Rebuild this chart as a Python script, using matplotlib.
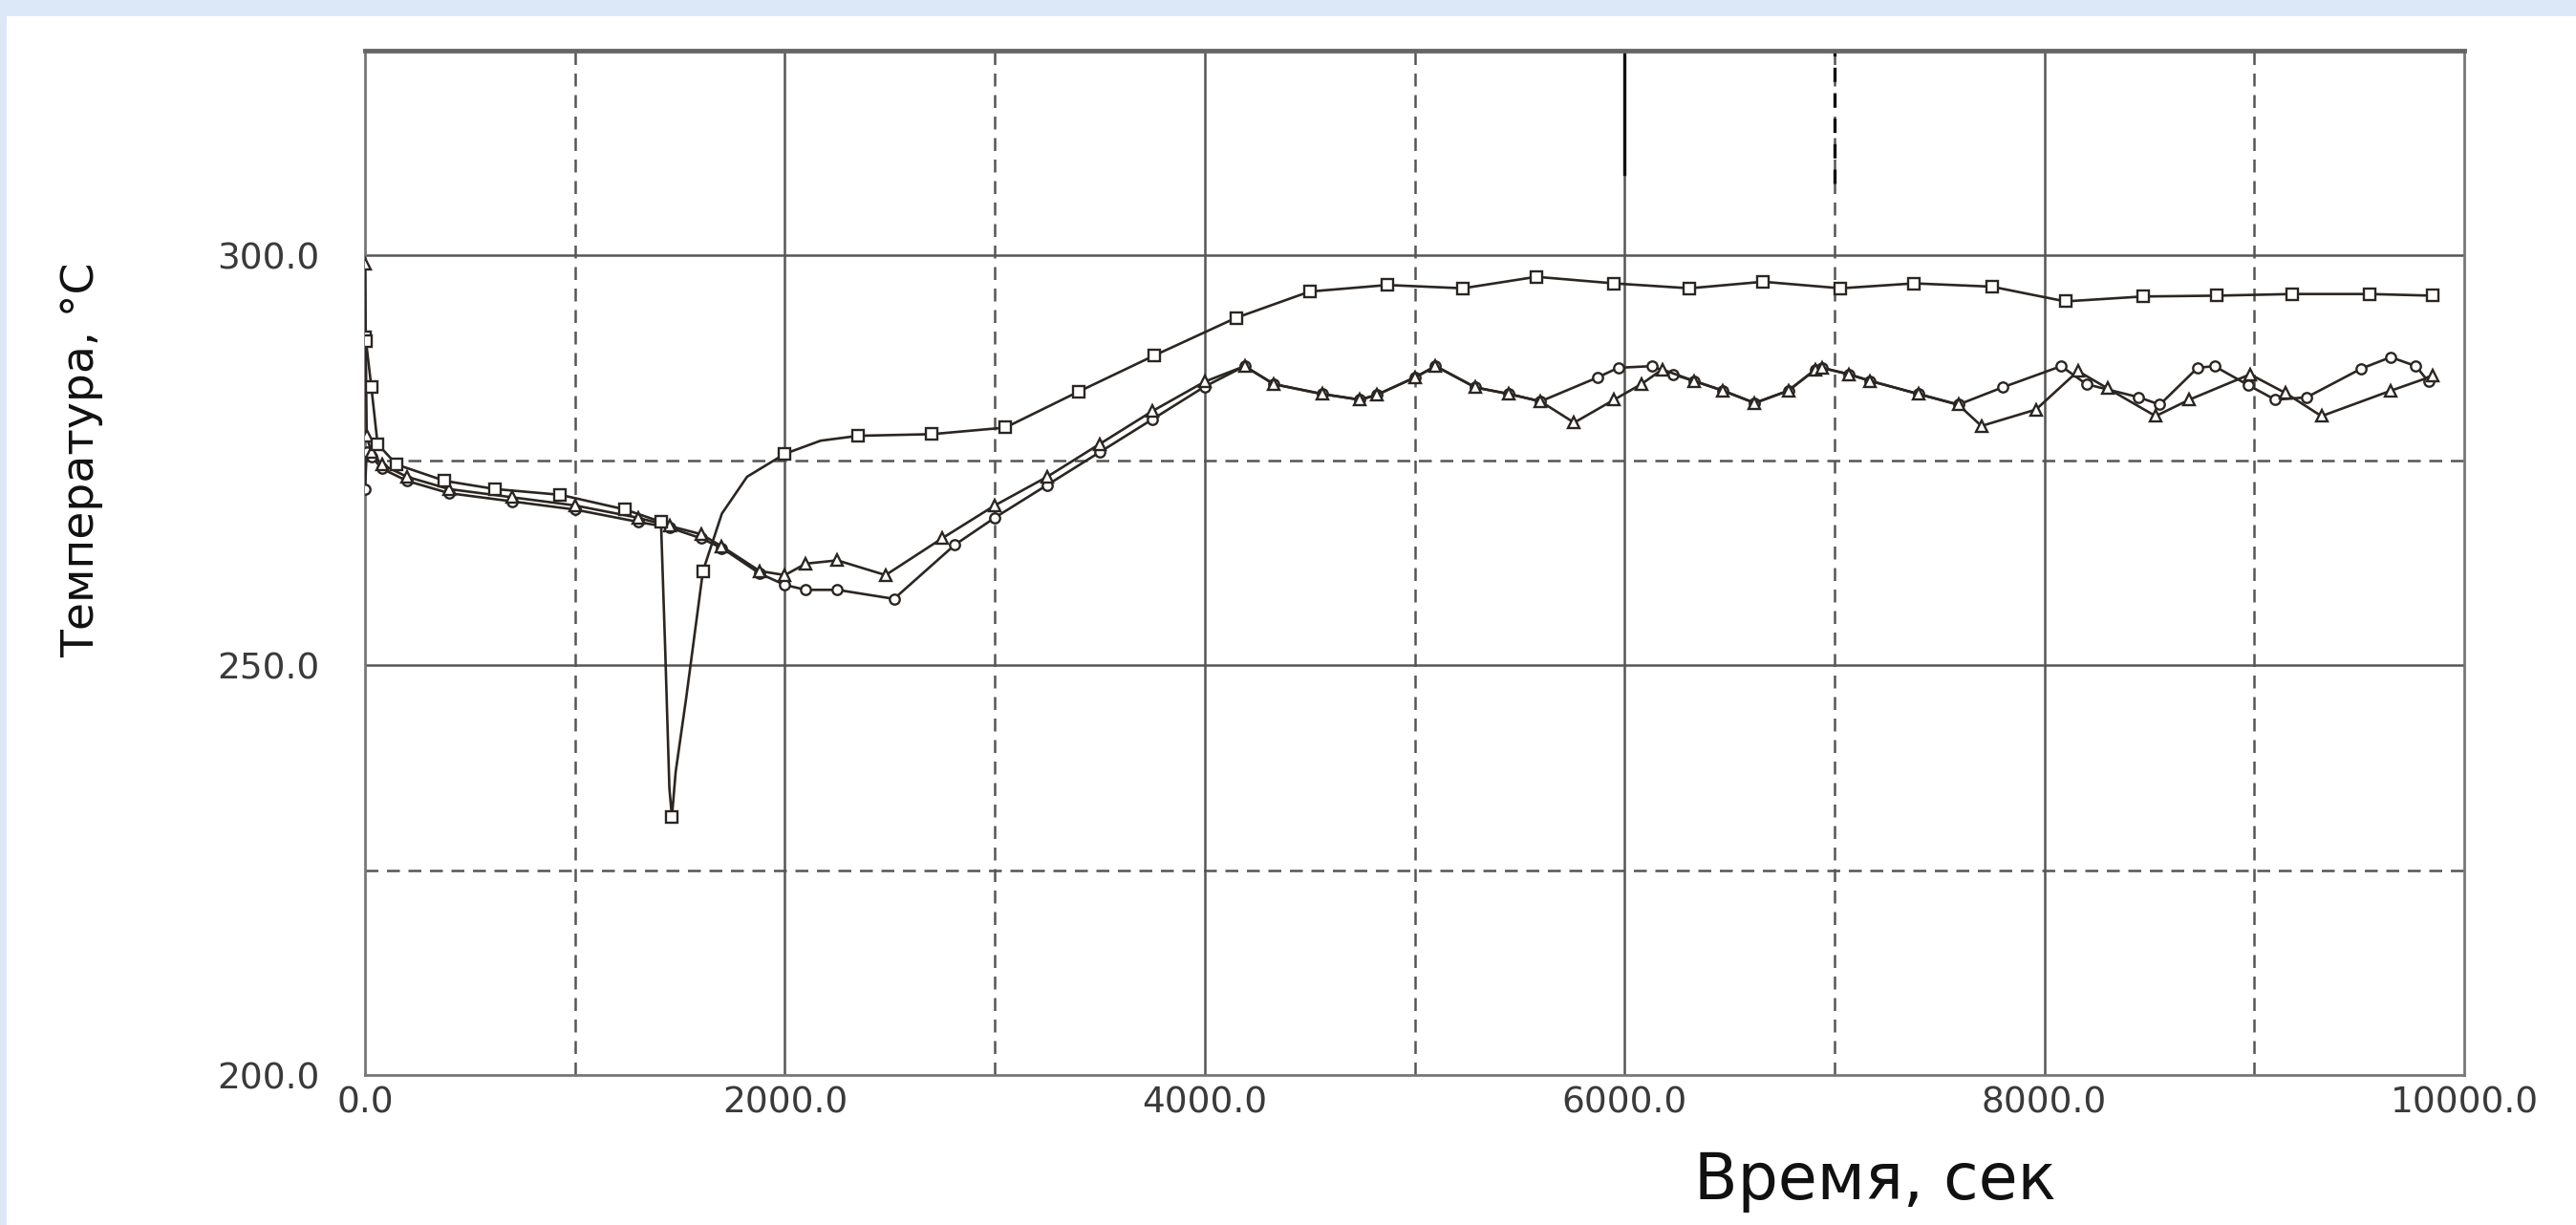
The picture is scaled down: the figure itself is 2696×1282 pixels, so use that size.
import matplotlib
matplotlib.use("Agg")
import matplotlib.pyplot as plt
from matplotlib.patches import Rectangle

# ---- data ----
t_sq = [0, 5, 30, 60, 150, 380, 620, 930, 1240, 1410, 1430, 1450, 1462, 1480, 1530, 1610,
        1700, 1820, 2000, 2170, 2350, 2700, 3050, 3400, 3760, 4150, 4500, 4870, 5230, 5580, 5950, 6310,
        6660, 7030, 7380, 7750, 8100, 8470, 8820, 9180, 9550, 9850]
T_sq = [290, 289.5, 284, 277, 274.5, 272.5, 271.5, 270.8, 269, 267.5, 252, 235, 231.5, 237, 246, 261.5,
        268.5, 273, 275.8, 277.4, 278, 278.2, 279, 283.4, 287.8, 292.4, 295.6, 296.4, 296, 297.4, 296.6, 296,
        296.8, 296, 296.6, 296.2, 294.4, 295, 295.1, 295.3, 295.3, 295.1]
# points of the square curve that carry no marker (shape-only points)
sq_unmarked = [1430, 1450, 1480, 1530, 1700, 1820, 2170]

t_tri = [0, 8, 30, 80, 200, 400, 700, 1000, 1300, 1450, 1600, 1700, 1880, 2000, 2100, 2250,
         2480, 2750, 3000, 3250, 3500, 3750, 4000, 4190, 4330, 4560, 4740, 4820, 5000, 5100,
         5290, 5450, 5600, 5760, 5950, 6080, 6180, 6330, 6470, 6620, 6780, 6910, 6940, 7070,
         7170, 7400, 7590, 7700, 7960, 8160, 8300, 8530, 8690, 8980, 9150, 9320, 9650, 9850]
T_tri = [299, 278, 276, 274.5, 273, 271.5, 270.5, 269.5, 268, 267, 266, 264.5, 261.5, 261, 262.4, 262.8,
         261, 265.5, 269.5, 273, 277, 281, 284.6, 286.5, 284.3, 283.1, 282.4, 283, 285.1, 286.5,
         283.9, 283.1, 282.2, 279.6, 282.4, 284.3, 286.1, 284.7, 283.5, 282, 283.5, 286.1, 286.3, 285.5,
         284.7, 283.1, 281.8, 279.2, 281.2, 285.9, 283.8, 280.4, 282.4, 285.5, 283.2, 280.4, 283.5, 285.3]

t_cir = [0, 8, 30, 80, 200, 400, 700, 1000, 1300, 1450, 1600, 1700, 1880, 2000, 2100, 2250,
         2520, 2810, 3000, 3250, 3500, 3750, 4000, 4190, 4330, 4560, 4740, 4820, 5000, 5100,
         5290, 5450, 5600, 5870, 5970, 6130, 6230, 6330, 6470, 6620, 6780, 6910, 6940, 7070,
         7170, 7400, 7590, 7800, 8080, 8200, 8450, 8550, 8730, 8810, 8970, 9100, 9250, 9510,
         9650, 9770, 9830]
T_cir = [271.5, 276, 275.5, 274, 272.5, 271, 270, 269, 267.5, 266.8, 265.5, 264.3, 261.2, 259.8, 259.2, 259.2,
         258.1, 264.7, 268, 272, 276, 280, 284, 286.5, 284.3, 283.1, 282.4, 283, 285.1, 286.5,
         283.9, 283.1, 282.2, 285.1, 286.3, 286.5, 285.5, 284.7, 283.5, 282, 283.5, 286.1, 286.3, 285.5,
         284.7, 283.1, 281.8, 283.9, 286.5, 284.3, 282.7, 281.8, 286.3, 286.5, 284.2, 282.4, 282.7, 286.2,
         287.6, 286.5, 284.6]

x_ticks = [0, 2000, 4000, 6000, 8000, 10000]
x_labels = ["0.0", "2000.0", "4000.0", "6000.0", "8000.0", "10000.0"]
y_ticks = [200, 250, 300]
y_labels = ["200.0", "250.0", "300.0"]
x_label = "Время, сек"
y_label = "Температура, °C"

# ---- figure ----
W, H = 2696, 1282
fig = plt.figure(figsize=(W / 100, H / 100), dpi=100)
fig.patch.set_facecolor('#dce8f8')
fig.add_artist(Rectangle((7 / W, 0), 1, (H - 17) / H, transform=fig.transFigure,
                         facecolor='white', edgecolor='none', zorder=0))

L, R, T, B = 382, 2579, 53, 1125
ax = fig.add_axes([L / W, 1 - B / H, (R - L) / W, (B - T) / H])
ax.set_facecolor('none')
ax.set_xlim(0, 10000)
ax.set_ylim(200, 325)

grid_c = '#555555'
for gx in range(1000, 10000, 1000):
    if gx % 2000 == 0:
        ax.axvline(gx, color=grid_c, lw=1.8, zorder=1)
    else:
        ax.axvline(gx, color=grid_c, lw=1.8, ls=(0, (5.4, 3.6)), zorder=1)
for gy in [225, 250, 275, 300]:
    if gy % 50 == 0:
        ax.axhline(gy, color=grid_c, lw=1.8, zorder=1)
    else:
        ax.axhline(gy, color=grid_c, lw=1.8, ls=(0, (5.4, 3.6)), zorder=1)
# darker stubs near the top edge
ax.axvline(6000, ymin=0.88, ymax=1, color='#111111', lw=2.4, zorder=2)
ax.axvline(7000, ymin=0.87, ymax=1, color='#111111', lw=2.4, ls=(0, (4.5, 3.5)), zorder=2)

line_c = '#2b2622'
common = dict(color=line_c, lw=1.9, mfc='white', mec=line_c, mew=1.7, zorder=3)
ax.plot(t_cir, T_cir, marker='o', ms=7.5, **common)
ax.plot(t_tri, T_tri, marker='^', ms=8, **common)
sq_marks = [i for i, tv in enumerate(t_sq) if tv not in sq_unmarked]
ax.plot(t_sq, T_sq, marker='s', ms=8.5, markevery=sq_marks, **common)

for s in ['left', 'right', 'bottom']:
    ax.spines[s].set_color('#777777')
    ax.spines[s].set_linewidth(2.0)
ax.spines['top'].set_color('#666666')
ax.spines['top'].set_linewidth(3.5)

ax.set_xticks(x_ticks)
ax.set_xticklabels(x_labels)
ax.set_yticks(y_ticks)
ax.set_yticklabels(y_labels)
ax.tick_params(axis='both', length=0, labelsize=27, labelcolor='#3a3a3a')
ax.tick_params(axis='x', pad=8)
ax.tick_params(axis='y', pad=34)

fig.text(86 / W, 1 - 481 / H, y_label, rotation=90, ha='center', va='center',
         fontsize=34, color='#111111')
fig.text(1962 / W, 1 - 1236 / H, x_label, ha='center', va='center',
         fontsize=48, color='#111111')

fig.savefig('out.png', dpi=100, facecolor=fig.get_facecolor())
